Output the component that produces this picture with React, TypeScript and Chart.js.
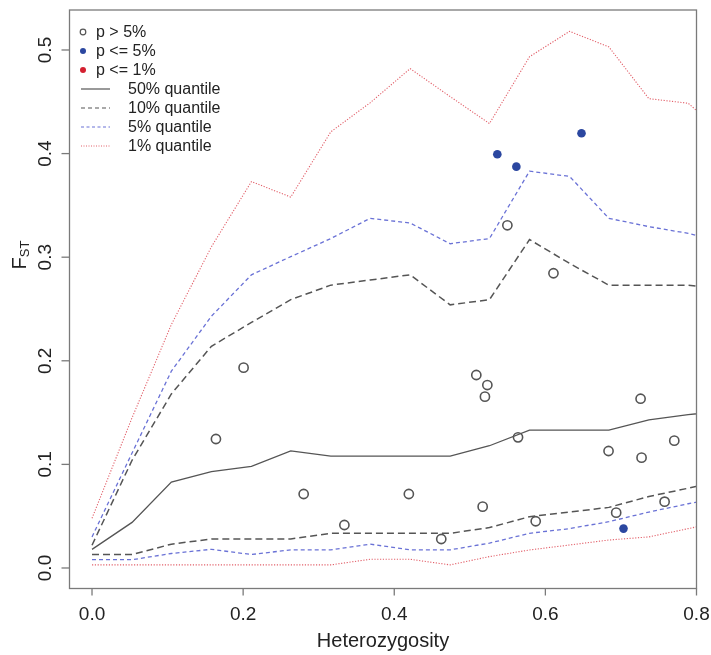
import React, { useEffect, useRef } from "react";
import { Chart, registerables } from "chart.js";

Chart.register(...registerables);

// Heterozygosity nodes of the quantile envelopes
const xNodes = [0, 0.053, 0.105, 0.158, 0.211, 0.263, 0.316, 0.368, 0.421, 0.474, 0.526, 0.579, 0.632, 0.684, 0.737, 0.789, 0.842];
const q50 = [0.018, 0.044, 0.083, 0.093, 0.098, 0.113, 0.108, 0.108, 0.108, 0.108, 0.118, 0.133, 0.133, 0.133, 0.143, 0.148, 0.152];
const q10Upper = [0.022, 0.104, 0.168, 0.214, 0.237, 0.259, 0.273, 0.278, 0.283, 0.254, 0.259, 0.317, 0.294, 0.273, 0.273, 0.273, 0.268];
const q10Lower = [0.013, 0.013, 0.023, 0.028, 0.028, 0.028, 0.0335, 0.0335, 0.0335, 0.0335, 0.039, 0.0495, 0.054, 0.0585, 0.069, 0.077, 0.086];
const q5Upper = [0.03, 0.111, 0.19, 0.243, 0.283, 0.3005, 0.318, 0.3375, 0.333, 0.313, 0.318, 0.383, 0.378, 0.3375, 0.3295, 0.323, 0.313];
const q5Lower = [0.008, 0.008, 0.014, 0.018, 0.013, 0.0175, 0.0175, 0.023, 0.0175, 0.0175, 0.024, 0.0335, 0.038, 0.0447, 0.054, 0.062, 0.069];
const q1Upper = [0.048, 0.145, 0.235, 0.31, 0.373, 0.358, 0.421, 0.449, 0.482, 0.455, 0.429, 0.4935, 0.518, 0.503, 0.453, 0.4486, 0.415];
const q1Lower = [0.003, 0.003, 0.003, 0.003, 0.003, 0.003, 0.003, 0.0084, 0.0084, 0.003, 0.011, 0.0174, 0.0222, 0.027, 0.03, 0.038, 0.046];

// Loci: p > 5%
const nsH = [0.164, 0.2006, 0.2801, 0.334, 0.4193, 0.4622, 0.5086, 0.5232, 0.52, 0.517, 0.5497, 0.5638, 0.5872, 0.6107, 0.6836, 0.6937, 0.726, 0.7273, 0.7578, 0.7706];
const nsF = [0.1245, 0.1934, 0.0714, 0.0415, 0.0714, 0.028, 0.1863, 0.1766, 0.1654, 0.0592, 0.3308, 0.1261, 0.0451, 0.2845, 0.1129, 0.0534, 0.1634, 0.1065, 0.064, 0.1229];
// Loci: p <= 5%
const sig5H = [0.5364, 0.5616, 0.6478, 0.7034];
const sig5F = [0.3993, 0.3874, 0.4196, 0.038];
// Loci: p <= 1%
const sig1H: number[] = [];
const sig1F: number[] = [];

const xTicks = [0, 0.2, 0.4, 0.6, 0.8];
const xTickLabels = ["0.0", "0.2", "0.4", "0.6", "0.8"];
const yTicks = [0, 0.1, 0.2, 0.3, 0.4, 0.5];
const yTickLabels = ["0.0", "0.1", "0.2", "0.3", "0.4", "0.5"];

const legendLabels = ["p > 5%", "p <= 5%", "p <= 1%", "50% quantile", "10% quantile", "5% quantile", "1% quantile"];

const FONT = "'Liberation Sans', Arial, Helvetica, sans-serif";
const C_OPEN = "#555555";
const C_BLUE = "#2b47a0";
const C_RED = "#d42030";
const C_Q50 = "#555555";
const C_Q10 = "#555555";
const C_Q5 = "#6a72d6";
const C_Q1 = "#e2606a";

const pts = (xs: number[], ys: number[]) => xs.map((x, i) => ({ x, y: ys[i] }));

const rAxesPlugin = {
  id: "rAxes",
  afterDraw(chart: any) {
    const { ctx, chartArea: a, scales } = chart;
    const xs = scales.x;
    const ys = scales.y;
    ctx.save();
    // box
    ctx.strokeStyle = "#7a7a7a";
    ctx.lineWidth = 1.3;
    ctx.setLineDash([]);
    ctx.strokeRect(a.left, a.top, a.right - a.left, a.bottom - a.top);

    // x ticks
    ctx.fillStyle = "#222";
    ctx.font = `19px ${FONT}`;
    ctx.textAlign = "center";
    ctx.textBaseline = "alphabetic";
    xTicks.forEach((v, i) => {
      const px = xs.getPixelForValue(v);
      ctx.beginPath();
      ctx.moveTo(px, a.bottom);
      ctx.lineTo(px, a.bottom + 7);
      ctx.stroke();
      ctx.fillText(xTickLabels[i], px, a.bottom + 31);
    });
    // y ticks
    yTicks.forEach((v, i) => {
      const py = ys.getPixelForValue(v);
      ctx.beginPath();
      ctx.moveTo(a.left, py);
      ctx.lineTo(a.left - 8, py);
      ctx.stroke();
      ctx.save();
      ctx.translate(51, py);
      ctx.rotate(-Math.PI / 2);
      ctx.fillText(yTickLabels[i], 0, 0);
      ctx.restore();
    });

    // x title
    ctx.font = `20px ${FONT}`;
    ctx.fillText("Heterozygosity", (a.left + a.right) / 2, 647);

    // y title F_ST
    ctx.save();
    ctx.translate(26, 255);
    ctx.rotate(-Math.PI / 2);
    ctx.textAlign = "left";
    ctx.font = `20px ${FONT}`;
    const wF = ctx.measureText("F").width;
    ctx.font = `13px ${FONT}`;
    const wS = ctx.measureText("ST").width;
    const start = -(wF + wS) / 2;
    ctx.font = `20px ${FONT}`;
    ctx.fillText("F", start, 0);
    ctx.font = `13px ${FONT}`;
    ctx.fillText("ST", start + wF, 3);
    ctx.restore();

    // legend
    ctx.font = `16px ${FONT}`;
    ctx.textAlign = "left";
    ctx.textBaseline = "middle";
    const rows = [32, 51, 70, 89, 108, 127, 146];
    const sx = 83;
    ctx.beginPath();
    ctx.arc(sx, rows[0], 2.8, 0, Math.PI * 2);
    ctx.strokeStyle = C_OPEN;
    ctx.lineWidth = 1.2;
    ctx.stroke();
    ctx.fillStyle = C_BLUE;
    ctx.beginPath();
    ctx.arc(sx, rows[1], 3, 0, Math.PI * 2);
    ctx.fill();
    ctx.fillStyle = C_RED;
    ctx.beginPath();
    ctx.arc(sx, rows[2], 3, 0, Math.PI * 2);
    ctx.fill();
    const lineStyles = [
      { c: C_Q50, d: [] as number[], w: 1.2 },
      { c: C_Q10, d: [4, 3], w: 1.2 },
      { c: C_Q5, d: [3, 2.5], w: 1.2 },
      { c: C_Q1, d: [1, 1.5], w: 1 },
    ];
    lineStyles.forEach((s, i) => {
      ctx.strokeStyle = s.c;
      ctx.lineWidth = s.w;
      ctx.setLineDash(s.d);
      ctx.beginPath();
      ctx.moveTo(sx - 2, rows[3 + i]);
      ctx.lineTo(sx + 27, rows[3 + i]);
      ctx.stroke();
    });
    ctx.setLineDash([]);
    ctx.fillStyle = "#222";
    legendLabels.forEach((t, i) => {
      ctx.fillText(t, i < 3 ? 96 : 128, rows[i] + 1);
    });
    ctx.restore();
  },
};

const lineDs = (label: string, ys: number[], color: string, dash: number[], width: number) => ({
  type: "line" as const,
  label,
  data: pts(xNodes, ys),
  borderColor: color,
  borderWidth: width,
  borderDash: dash,
  pointRadius: 0,
  fill: false,
  tension: 0,
  showLine: true,
});

export default function App() {
  const ref = useRef<HTMLCanvasElement>(null);
  useEffect(() => {
    if (!ref.current) return;
    const chart = new Chart(ref.current, {
      type: "scatter",
      data: {
        datasets: [
          {
            label: "p <= 1%",
            data: pts(sig1H, sig1F),
            pointRadius: 4.3,
            backgroundColor: C_RED,
            borderColor: C_RED,
            borderWidth: 0,
          },
          {
            label: "p <= 5%",
            data: pts(sig5H, sig5F),
            pointRadius: 4.3,
            backgroundColor: C_BLUE,
            borderColor: C_BLUE,
            borderWidth: 0,
          },
          {
            label: "p > 5%",
            data: pts(nsH, nsF),
            pointRadius: 4.6,
            backgroundColor: "rgba(0,0,0,0)",
            borderColor: C_OPEN,
            borderWidth: 1.6,
          },
          lineDs("50% quantile", q50, C_Q50, [], 1.3),
          lineDs("10% quantile", q10Upper, C_Q10, [7, 4], 1.5),
          lineDs("10% quantile", q10Lower, C_Q10, [7, 4], 1.5),
          lineDs("5% quantile", q5Upper, C_Q5, [4, 3], 1.3),
          lineDs("5% quantile", q5Lower, C_Q5, [4, 3], 1.3),
          lineDs("1% quantile", q1Upper, C_Q1, [1.2, 1.6], 1.1),
          lineDs("1% quantile", q1Lower, C_Q1, [1.2, 1.6], 1.1),
        ] as any,
      },
      options: {
        animation: false,
        responsive: false,
        devicePixelRatio: 1,
        events: [],
        layout: { padding: { left: 69.5, right: 14.5, top: 10, bottom: 66.5 } },
        plugins: { legend: { display: false }, tooltip: { enabled: false } },
        scales: {
          x: { type: "linear", min: -0.0298, max: 0.8, display: false },
          y: { type: "linear", min: -0.0198, max: 0.5386, display: false },
        },
      },
      plugins: [rAxesPlugin],
    });
    return () => chart.destroy();
  }, []);
  return (
    <div style={{ position: "absolute", left: 0, top: 0, width: 711, height: 655, background: "#fff" }}>
      <canvas ref={ref} width={711} height={655} style={{ display: "block" }} />
    </div>
  );
}
